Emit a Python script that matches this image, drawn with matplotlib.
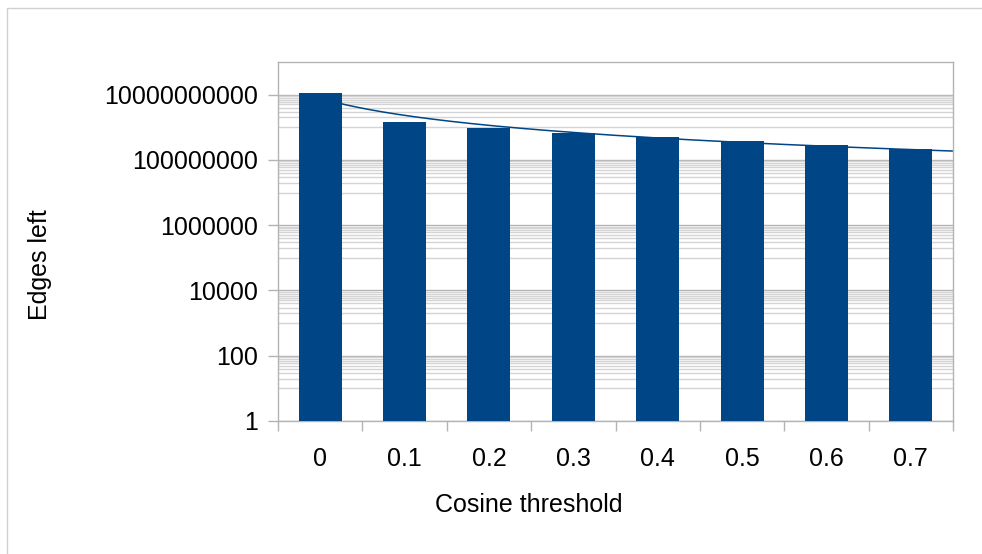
import numpy as np
import matplotlib
matplotlib.use("Agg")
import matplotlib.pyplot as plt
from matplotlib.patches import Rectangle
from matplotlib.ticker import FixedLocator, NullFormatter

plt.rcParams['font.family'] = ['Liberation Sans', 'DejaVu Sans']

thresholds = ['0', '0.1', '0.2', '0.3', '0.4', '0.5', '0.6', '0.7']
edges_left = [1.12e10, 1.45e9, 9.7e8, 6.7e8, 5.0e8, 3.8e8, 2.9e8, 2.15e8]
y_major = [1, 1e2, 1e4, 1e6, 1e8, 1e10]
y_labels = ['1', '100', '10000', '1000000', '100000000', '10000000000']

blue = '#004586'
grid_major = '#b3b3b3'
grid_minor = '#d4d4d4'

W, H = 982, 554
fig = plt.figure(figsize=(W / 100, H / 100), dpi=100)
ax = fig.add_axes([278 / W, 133 / H, (953 - 278) / W, (421 - 62) / H])

x = np.arange(len(thresholds))
ax.bar(x, edges_left, width=0.51, color=blue, zorder=3)

# power trendline y = a * n^b fitted on category number n = 1..8
n = x + 1
b, log_a = np.polyfit(np.log10(n), np.log10(edges_left), 1)
xs = np.linspace(0, len(thresholds) - 0.5, 300)
ax.plot(xs, 10 ** log_a * (xs + 1) ** b, color=blue, lw=1.1, zorder=2)

ax.set_yscale('log')
ax.set_ylim(1, 1e11)
ax.set_xlim(-0.5, len(thresholds) - 0.5)

ax.yaxis.set_major_locator(FixedLocator(y_major))
ax.set_yticklabels(y_labels)
minor = [m * 10.0 ** (2 * k + 1) for k in range(5) for m in range(1, 10)]
ax.yaxis.set_minor_locator(FixedLocator(minor))
ax.yaxis.set_minor_formatter(NullFormatter())
ax.grid(True, which='major', axis='y', color=grid_major, lw=1, zorder=0)
ax.grid(True, which='minor', axis='y', color=grid_minor, lw=1, zorder=0)

ax.set_xticks(x)
ax.set_xticklabels(thresholds)
ax.set_xticks(np.arange(len(thresholds) + 1) - 0.5, minor=True)

ax.tick_params(axis='y', which='major', length=7.2, width=1, color=grid_major,
               labelsize=18, pad=7)
ax.tick_params(axis='y', which='minor', length=0)
ax.tick_params(axis='x', which='major', length=0, labelsize=18, pad=19)
ax.tick_params(axis='x', which='minor', length=7.5, width=1, color=grid_major)

for s in ax.spines.values():
    s.set_color(grid_major)
    s.set_linewidth(1)

fig.text(529 / W, 1 - 505 / H, 'Cosine threshold', fontsize=18,
         ha='center', va='center')
fig.text(40 / W, 1 - 265 / H, 'Edges left', fontsize=18, rotation=90,
         ha='center', va='center')

fig.add_artist(Rectangle((7 / W, -0.1), 1.2, 1.1 - 8 / H, transform=fig.transFigure,
                         fill=False, edgecolor='#d0d0d0', lw=1))

fig.savefig('out.png', dpi=100)
